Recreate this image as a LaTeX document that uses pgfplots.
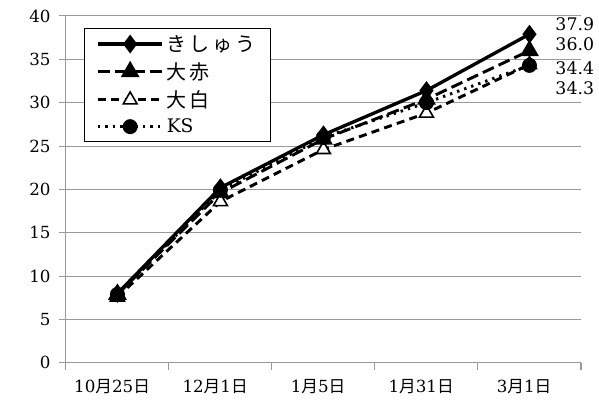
\documentclass[border=0pt]{standalone}
\usepackage{pgfplots}
\pgfplotsset{compat=1.18}
\usepackage{fontspec}
\setmainfont{DejaVu Serif}
\newfontfamily\jp{Noto Sans CJK JP}
\newfontfamily\jpwide[LetterSpace=14]{Noto Sans CJK JP}
\newcommand\md[2]{#1{\jp 月}#2{\jp 日}}

\begin{document}
\begin{tikzpicture}
\begin{axis}[
  scale only axis,
  width=386pt, height=260pt,
  xmin=-0.5, xmax=4.5, ymin=0, ymax=40,
  axis lines=left,
  axis line style={-, draw=black!40, line width=0.8pt},
  tick align=outside,
  xtick={0,...,4},
  xticklabels={\md{10}{25},\md{12}{1},\md{1}{5},\md{1}{31},\md{3}{1}},
  major x tick style={draw=none},
  minor xtick={-0.5,0.5,...,4.5},
  minor x tick style={draw=black!40, line width=0.8pt},
  minor tick length=5pt,
  ytick={0,5,...,40},
  major tick length=5pt,
  y tick style={draw=black!40, line width=0.8pt},
  ymajorgrids,
  grid style={draw=black!40, line width=0.8pt},
  /pgf/number format/assume math mode=true,
  yticklabel style={font=\fontsize{12.5}{13}\selectfont, xshift=-3pt},
  xticklabel style={font=\fontsize{12.5}{13}\selectfont, yshift=-4pt, xshift=-4pt},
  clip=false,
  legend cell align=left,
  legend style={at={(0.035,0.965)}, anchor=north west, draw=black,
    font=\jpwide\fontsize{15}{16}\selectfont, row sep=3pt,
    inner xsep=9pt, inner ysep=3pt},
  legend image code/.code={
    \draw[mark repeat=2, mark phase=2] plot coordinates {(0cm,0cm) (0.85cm,0cm) (1.7cm,0cm)};
  },
]
\path (rel axis cs:-0.128,-0.141) rectangle (rel axis cs:1.035,1.046);

\addplot[black, line width=2.5pt, mark=diamond*, mark size=5pt]
  coordinates {(0,8.0) (1,20.2) (2,26.3) (3,31.4) (4,37.9)};
\addlegendentry{きしゅう}
\addplot[black, line width=2.2pt, dash pattern=on 9pt off 4pt, mark=triangle*, mark size=6pt, mark options={solid}]
  coordinates {(0,7.9) (1,19.6) (2,25.8) (3,30.4) (4,36.0)};
\addlegendentry{大赤}
\addplot[black, line width=2.2pt, dash pattern=on 6pt off 4pt, mark=triangle*, mark size=6pt, mark options={solid, fill=white, line width=1.2pt}]
  coordinates {(0,7.6) (1,18.6) (2,24.6) (3,28.8) (4,34.4)};
\addlegendentry{大白}
\addplot[black, line width=2.2pt, dash pattern=on 1.8pt off 3.8pt, mark=*, mark size=4.5pt, mark options={solid}]
  coordinates {(0,7.9) (1,19.9) (2,26.0) (3,30.0) (4,34.3)};
\addlegendentry{\rmfamily\fontsize{14}{15}\selectfont KS}

\begin{scope}[every node/.style={anchor=west, font=\fontsize{13}{14}\selectfont, inner sep=0pt}]
  \node at (axis cs:4.25,39.1) {37.9};
  \node at (axis cs:4.25,36.7) {36.0};
  \node at (axis cs:4.25,34.0) {34.4};
  \node at (axis cs:4.25,31.7) {34.3};
\end{scope}
\end{axis}
\end{tikzpicture}
\end{document}
